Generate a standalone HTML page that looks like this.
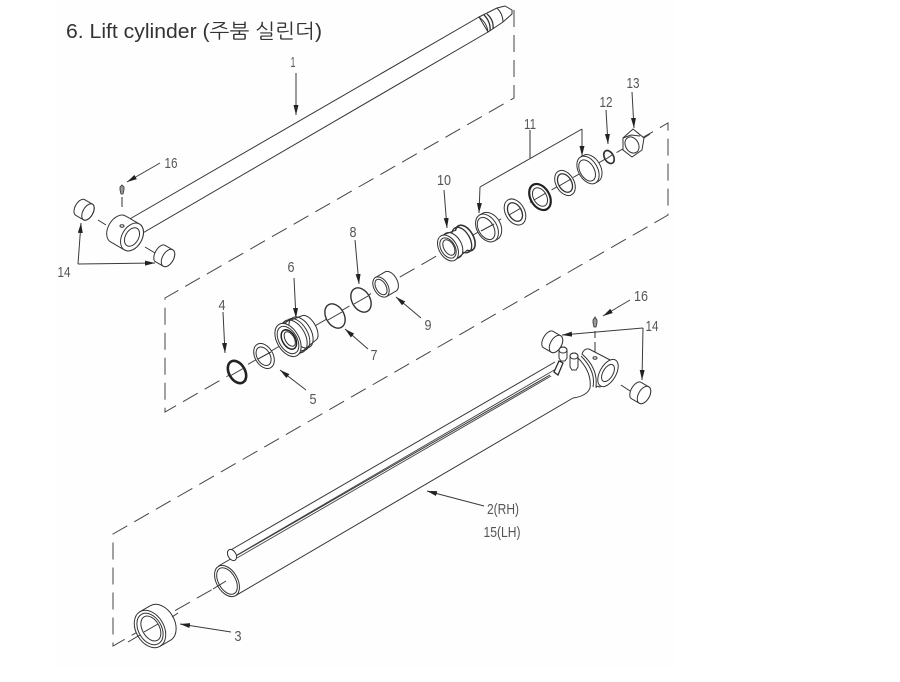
<!DOCTYPE html>
<html><head><meta charset="utf-8"><title>Lift cylinder</title>
<style>
html,body{margin:0;padding:0;background:#fff;width:900px;height:682px;overflow:hidden}
svg{display:block;position:absolute;left:0;top:0}
.l{fill:none;stroke:#333;stroke-width:1}
.w{fill:#fff;stroke:#333;stroke-width:1}
.d{fill:none;stroke:#444;stroke-width:1;stroke-dasharray:17 8}
.a{fill:none;stroke:#3a3a3a;stroke-width:1;marker-end:url(#ah)}
.t{font-family:"Liberation Sans",sans-serif;font-size:15px;fill:#555;text-anchor:middle}
</style></head><body>
<svg width="900" height="682" viewBox="0 0 900 682">
<defs><marker id="ah" markerUnits="userSpaceOnUse" markerWidth="11" markerHeight="6" refX="10" refY="2.5" orient="auto"><path d="M0 0L10 2.5L0 5Z" fill="#222"/></marker></defs>
<rect x="55" y="0" width="620" height="668" fill="#fefefe"/>
<text x="66" y="38" font-family="'Liberation Sans','NanumGothic','Noto Sans CJK KR',sans-serif" font-size="20" fill="#333" textLength="256" lengthAdjust="spacingAndGlyphs">6. Lift cylinder (주붐 실린더)</text>
<g style="filter:blur(.25px)">
<!-- dashed frames -->
<path class="d" d="M514 10V98L165 298V412L668 123V215L113 534V646L227 581"/>
<!-- rod 1 -->
<path class="w" d="M128 220L479 17L488 32L141 234Z"/>
<path class="w" d="M479 17L485 14L497 8L505 6L512 10L512 14L503 22L488 32Q487 23 479 17Z"/>
<path class="l" d="M497 8Q503 14 503 22"/>
<path fill="none" stroke="#333" stroke-width="1.3" d="M484 15Q491 22 490 31M487 14Q494 20 493 29"/>
<!-- clevis top -->
<path class="l" d="M98 220L106 225M145 247L155 253M122 197V207"/>
<g transform="translate(132 237) rotate(30)">
<path class="w" d="M-16 -15L0 -15A10 15 0 0 1 0 15L-16 15A10 15 0 0 1 -16 -15Z"/>
<ellipse class="w" cx="0" cy="0" rx="10" ry="15"/><ellipse class="l" cx="0" cy="0" rx="6.5" ry="10"/>
</g>
<ellipse class="l" cx="122" cy="226" rx="2" ry="1.2"/>
<!-- bushings -->
<g transform="translate(88 212) rotate(30)"><path class="w" d="M-9 -9L0 -9A5 9 0 0 1 0 9L-9 9A5 9 0 0 1 -9 -9Z"/><ellipse class="l" cx="0" cy="0" rx="5" ry="9"/></g>
<g transform="translate(168 258) rotate(30)"><path class="w" d="M-9 -9.5L0 -9.5A5.5 9.5 0 0 1 0 9.5L-9 9.5A5 9.5 0 0 1 -9 -9.5Z"/><ellipse class="w" cx="0" cy="0" rx="5.5" ry="9.5"/></g>
<g transform="translate(556 344) rotate(30)"><path class="w" d="M-9 -9.5L0 -9.5A5.5 9.5 0 0 1 0 9.5L-9 9.5A5 9.5 0 0 1 -9 -9.5Z"/><ellipse class="w" cx="0" cy="0" rx="5.5" ry="9.5"/></g>
<g transform="translate(644 395) rotate(30)"><path class="w" d="M-9 -9.5L0 -9.5A5.5 9.5 0 0 1 0 9.5L-9 9.5A5 9.5 0 0 1 -9 -9.5Z"/><ellipse class="w" cx="0" cy="0" rx="5.5" ry="9.5"/></g>
<!-- nipples -->
<path d="M120 190L120 187L122 185L124 187L124 190L123 194L121 194Z" fill="#999" stroke="#333" stroke-width=".8"/>
<path d="M593 323L593 320L595 317L597 320L597 323L596 327L594 327Z" fill="#999" stroke="#333" stroke-width=".8"/>
<path class="l" d="M595 331V338M595 342V352M621 385L630 391"/>
<!-- parts on axis -->
<g transform="translate(237 372) rotate(-30)"><ellipse cx="0" cy="0" rx="8" ry="12" fill="#fff" stroke="#222" stroke-width="2.6"/></g>
<path class="l" d="M230 376L244 368"/>
<g transform="translate(264 356) rotate(-30)"><ellipse class="w" cx="0" cy="0" rx="9" ry="13.5"/><ellipse class="l" cx="-.5" cy="0" rx="6.5" ry="10"/></g>
<path class="l" d="M258 359L271 352"/>
<!-- piston 6 -->
<g transform="translate(288 340) rotate(-30)">
<path class="w" d="M0 -18L24 -14A7 14 0 0 1 24 14L0 18Z"/>
<ellipse class="l" cx="15" cy="0" rx="10" ry="17"/><ellipse class="l" cx="11" cy="0" rx="10" ry="17.5"/><ellipse class="l" cx="7" cy="0" rx="11" ry="18"/>
<ellipse class="w" cx="0" cy="0" rx="11" ry="18"/><ellipse class="l" cx="0" cy="0" rx="9" ry="15"/><ellipse cx="1" cy="0" rx="6.5" ry="10.5" fill="#fff" stroke="#222" stroke-width="1.5"/><ellipse class="l" cx="2" cy="0" rx="4.5" ry="8"/>
</g>
<g transform="translate(335 316) rotate(-30)"><ellipse cx="0" cy="0" rx="9" ry="13" fill="#fff" stroke="#333" stroke-width="1.4"/></g>
<path class="l" d="M328 320L342 312"/>
<g transform="translate(361 300) rotate(-30)"><ellipse cx="0" cy="0" rx="9" ry="13" fill="#fff" stroke="#333" stroke-width="1.4"/></g>
<path class="l" d="M354 304L368 296"/>
<!-- bushing 9 -->
<g transform="translate(381 287) rotate(-30)"><path class="w" d="M0 -11L11 -11A6.5 11 0 0 1 11 11L0 11Z"/><ellipse class="w" cx="0" cy="0" rx="7" ry="11"/><ellipse class="l" cx="0" cy="0" rx="5" ry="8.5"/></g>
<!-- piston 10 -->
<g transform="translate(448 248) rotate(-30)">
<path class="w" d="M0 -14L20 -11A7 13 0 0 1 20 11L0 14Z"/>
<ellipse cx="20" cy="0" rx="8" ry="14" fill="#fff" stroke="#333" stroke-width="1.6"/><ellipse cx="16" cy="0" rx="8" ry="14" fill="none" stroke="#333" stroke-width="1.3"/>
<rect x="2" y="-11" width="14" height="22" fill="#fff"/>
<ellipse class="l" cx="5" cy="0" rx="9" ry="14"/><ellipse class="w" cx="0" cy="0" rx="9" ry="14"/><ellipse class="l" cx="0" cy="0" rx="7" ry="11"/><ellipse class="l" cx="1" cy="0" rx="5" ry="8.5"/>
</g>
<!-- 11 group -->
<g transform="translate(487 228) rotate(-30)"><path class="w" d="M0 -15L3 -15A11 15 0 0 1 3 15L0 15Z"/><ellipse class="w" cx="0" cy="0" rx="10" ry="15"/><ellipse class="l" cx="-1" cy="0" rx="7.5" ry="12"/></g>
<path class="l" d="M481 231L494 224"/>
<g transform="translate(515 212) rotate(-30)"><ellipse class="w" cx="0" cy="0" rx="9.5" ry="14"/><ellipse cx="0" cy="0" rx="6.5" ry="10" fill="#fff" stroke="#333" stroke-width="1.3"/></g>
<path class="l" d="M509 215L521 208"/>
<g transform="translate(540 197) rotate(-30)"><ellipse cx="0" cy="0" rx="9.5" ry="14" fill="#fff" stroke="#222" stroke-width="2.2"/><ellipse class="l" cx="0" cy="0" rx="6.5" ry="10"/></g>
<path class="l" d="M534 200L546 193"/>
<g transform="translate(565 183) rotate(-30)"><ellipse class="w" cx="0" cy="0" rx="9" ry="13.5"/><ellipse cx="0" cy="0" rx="6.5" ry="10" fill="#fff" stroke="#333" stroke-width="1.3"/></g>
<path class="l" d="M559 186L571 179"/>
<g transform="translate(588 170) rotate(-30)"><path class="w" d="M0 -15L3 -15A10 15 0 0 1 3 15L0 15Z"/><ellipse class="w" cx="0" cy="0" rx="9.5" ry="15"/><ellipse class="l" cx="-1" cy="0" rx="7" ry="11.5"/></g>
<g transform="translate(609 157) rotate(-30)"><ellipse cx="0" cy="0" rx="4.5" ry="7" fill="#fff" stroke="#333" stroke-width="1.7"/></g>
<path class="l" d="M606 159L612 155"/>
<!-- nut 13 -->
<path class="w" d="M633 129L644 138L642 150L632 157L623 150L623 138Z"/>
<path class="l" d="M623 138L631 135L640 136"/>
<ellipse class="l" cx="632" cy="145" rx="6.500" ry="8.500" transform="rotate(-30 632 145)"/>
<path class="l" d="M644 138L650 134"/>
<!-- lower cylinder -->
<path class="l" d="M218.500 566L550 375M235.500 595.700L573 398"/>
<path class="l" d="M229 551L555 362"/>
<path fill="none" stroke="#444" stroke-width=".9" d="M237 555L556 369M237 558L558 372"/>
<ellipse class="w" cx="232" cy="555" rx="4" ry="6" transform="rotate(-30 232 555)"/>
<path fill="#fff" stroke="none" d="M578 359Q596 372 594 388Q590 396 573 398L550 375Z"/>
<path class="l" d="M578 358Q592 372 590 388Q587 396 573 398M581 356Q596 371 593 387M584 354Q600 370 596 388"/>
<path d="M554 372L559 361L563 363L558 375Z" fill="#fff" stroke="#222" stroke-width="1.200"/>
<path class="w" d="M582 354Q584 348 589 349L614 362L600 387L596 386Q598 368 582 354Z"/>
<g transform="translate(608 373) rotate(30)"><ellipse class="w" cx="0" cy="0" rx="8" ry="15"/><ellipse class="l" cx="0" cy="0" rx="5" ry="9.500"/></g>
<ellipse class="l" cx="595" cy="358" rx="2" ry="1.200"/>
<path class="w" d="M559 350A4 3 0 0 1 567 350V358L565 361H561L559 358Z"/><ellipse class="l" cx="563" cy="350" rx="4" ry="3"/>
<path class="w" d="M570 356A4 3 0 0 1 578 356V367L576 370H572L570 367Z"/><ellipse class="l" cx="574" cy="356" rx="4" ry="3"/>
<g transform="translate(227 581) rotate(-30)"><ellipse class="w" cx="0" cy="0" rx="10.500" ry="17"/><ellipse class="l" cx="0" cy="0" rx="8.500" ry="14.500"/></g>
<path class="l" d="M213 589L226 581"/>
<!-- bearing 3 -->
<g transform="translate(150 629) rotate(-30)"><path class="w" d="M0 -20L12 -20A14 20 0 0 1 12 20L0 20Z"/><ellipse class="w" cx="0" cy="0" rx="14" ry="20"/><ellipse class="l" cx="0" cy="0" rx="11.500" ry="17"/><ellipse class="l" cx="1" cy="0" rx="8.500" ry="13.500"/></g>
<path class="l" d="M128 642L140 635M144 632L158 624M172 617L178 613"/>
<!-- leaders -->
<path class="a" d="M296 73L296 115"/>
<path class="a" d="M160 163L127 182"/>
<path class="a" d="M78 264L81 223"/><path class="a" d="M78 264L155 263"/>
<path class="a" d="M223 312L225 353"/>
<path class="a" d="M306 390L280 370"/>
<path class="a" d="M294 278L296 318"/>
<path class="a" d="M368 349L345 329"/>
<path class="a" d="M355 240L359 284"/>
<path class="a" d="M421 318L396 297"/>
<path class="a" d="M444 190L447 228"/>
<path class="l" d="M530 130V158M480 187L582 129"/>
<path class="a" d="M480 187L479 213"/><path class="a" d="M582 129L582 156"/>
<path class="a" d="M606 110L608 144"/>
<path class="a" d="M632 92L634 128"/>
<path class="a" d="M630 300L603 316"/>
<path class="a" d="M643 328L562 335"/><path class="a" d="M643 328L642 380"/>
<path class="a" d="M484 506L427 491"/>
<path class="a" d="M231 632L180 624"/>
</g>
<!-- labels -->
<text class="t" x="293" y="67" textLength="5" lengthAdjust="spacingAndGlyphs">1</text>
<text class="t" x="171" y="168" textLength="13" lengthAdjust="spacingAndGlyphs">16</text>
<text class="t" x="64" y="277" textLength="13" lengthAdjust="spacingAndGlyphs">14</text>
<text class="t" x="222" y="310" textLength="7" lengthAdjust="spacingAndGlyphs">4</text>
<text class="t" x="313" y="404" textLength="7" lengthAdjust="spacingAndGlyphs">5</text>
<text class="t" x="291" y="272" textLength="7" lengthAdjust="spacingAndGlyphs">6</text>
<text class="t" x="374" y="360" textLength="7" lengthAdjust="spacingAndGlyphs">7</text>
<text class="t" x="353" y="237" textLength="7" lengthAdjust="spacingAndGlyphs">8</text>
<text class="t" x="428" y="330" textLength="7" lengthAdjust="spacingAndGlyphs">9</text>
<text class="t" x="444" y="185" textLength="14" lengthAdjust="spacingAndGlyphs">10</text>
<text class="t" x="530" y="129" textLength="12" lengthAdjust="spacingAndGlyphs">11</text>
<text class="t" x="606" y="107" textLength="13" lengthAdjust="spacingAndGlyphs">12</text>
<text class="t" x="633" y="88" textLength="13" lengthAdjust="spacingAndGlyphs">13</text>
<text class="t" x="641" y="301" textLength="14" lengthAdjust="spacingAndGlyphs">16</text>
<text class="t" x="652" y="331" textLength="13" lengthAdjust="spacingAndGlyphs">14</text>
<text class="t" x="503" y="514" textLength="32" lengthAdjust="spacingAndGlyphs">2(RH)</text>
<text class="t" x="502" y="537" textLength="37" lengthAdjust="spacingAndGlyphs">15(LH)</text>
<text class="t" x="238" y="641" textLength="7" lengthAdjust="spacingAndGlyphs">3</text>
</svg>
</body></html>
